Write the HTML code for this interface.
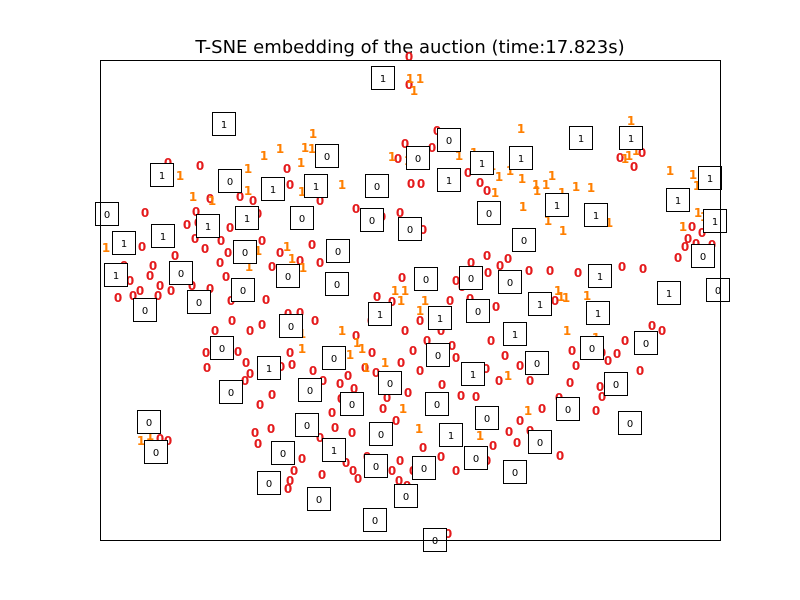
<!DOCTYPE html>
<html><head><meta charset="utf-8">
<style>
html,body{margin:0;padding:0;background:#fff;}
svg{display:block;}
text{font-family:"DejaVu Sans","Liberation Sans",sans-serif;}
</style></head>
<body>
<svg id="chart" width="800" height="600" viewBox="0 0 800 600">
<rect x="0" y="0" width="800" height="600" fill="#fff"/>
<text x="410" y="53" font-size="18" text-anchor="middle" fill="#000">T-SNE embedding of the auction (time:17.823s)</text>
<g id="labels"></g>
<g id="boxes"></g>
<rect x="100.5" y="60.5" width="620" height="480" fill="none" stroke="#000" stroke-width="1"/>
</svg>
<script>
// embedding coordinates (data units; domain x 0..620, y 0..480)
const zeroPts=[[309,-4],[309,24],[337,70],[100,105],[68,102],[125,120],[140,136],[110,138],[153,140],[158,153],[187,108],[190,124],[220,140],[305,83],[298,98],[311,123],[321,123],[332,87],[368,112],[380,122],[387,130],[323,169],[300,152],[256,148],[282,156],[98,162],[96,151],[45,152],[87,164],[130,167],[95,178],[105,188],[121,180],[128,192],[162,180],[180,192],[172,206],[200,200],[212,184],[220,202],[24,205],[30,220],[50,215],[60,225],[40,230],[58,235],[71,230],[120,202],[126,216],[110,228],[92,225],[75,195],[53,205],[33,235],[18,237],[42,186],[71,183],[131,240],[166,239],[200,252],[215,260],[115,270],[132,260],[150,270],[162,264],[188,253],[106,292],[107,307],[138,291],[146,302],[150,313],[190,292],[192,304],[181,306],[213,310],[223,320],[240,323],[248,315],[265,307],[276,312],[254,328],[272,292],[301,302],[313,290],[320,310],[308,332],[287,337],[283,348],[296,360],[327,280],[341,270],[352,285],[356,297],[391,280],[405,295],[386,308],[399,320],[430,320],[420,305],[361,335],[342,324],[376,336],[356,220],[371,202],[387,195],[388,212],[400,205],[408,198],[302,217],[277,236],[292,241],[271,260],[256,275],[320,260],[305,270],[362,226],[350,240],[370,238],[396,246],[429,210],[450,210],[478,212],[522,206],[543,208],[455,240],[472,290],[476,305],[502,292],[517,293],[508,300],[552,265],[562,270],[525,280],[540,310],[500,326],[502,336],[496,350],[470,322],[459,337],[442,348],[420,360],[460,395],[417,382],[409,371],[430,370],[393,385],[387,400],[341,396],[356,410],[323,387],[300,400],[292,410],[267,396],[253,410],[246,402],[258,418],[299,420],[307,425],[313,410],[348,473],[194,410],[190,420],[188,428],[202,398],[222,414],[220,377],[235,367],[252,372],[171,368],[158,383],[160,344],[172,334],[145,320],[68,380],[60,378],[155,372],[232,352],[241,338],[592,166],[588,178],[596,183],[585,186],[602,172],[612,184],[578,197],[534,106],[520,97],[542,92]];
const onePts=[[310,18],[314,30],[320,18],[421,68],[213,73],[212,88],[201,102],[205,87],[180,88],[164,95],[148,108],[80,115],[93,136],[112,140],[148,130],[202,131],[242,124],[292,96],[308,100],[359,95],[374,92],[392,105],[399,116],[410,110],[422,118],[436,124],[446,124],[452,115],[395,132],[423,146],[437,130],[462,132],[476,126],[491,127],[531,60],[525,98],[529,95],[536,90],[570,110],[593,114],[597,125],[598,152],[604,156],[583,166],[509,162],[463,170],[448,160],[6,187],[158,190],[187,186],[192,198],[203,207],[149,206],[295,230],[305,230],[325,240],[320,250],[301,240],[242,270],[257,282],[262,288],[250,294],[202,273],[202,288],[458,230],[461,236],[466,237],[487,235],[467,270],[496,277],[492,285],[285,302],[408,315],[428,350],[319,368],[380,375],[41,380],[50,375],[266,307],[303,348]];
const boxPts=[[283,18],[124,64],[349,80],[481,78],[531,78],[227,96],[318,98],[382,103],[421,98],[62,115],[130,121],[173,129],[216,126],[277,126],[349,120],[610,118],[7,154],[147,158],[202,158],[272,160],[310,169],[389,153],[457,145],[496,155],[578,140],[615,161],[24,183],[63,176],[108,166],[145,192],[238,191],[424,180],[603,196],[16,215],[81,213],[143,230],[188,216],[237,224],[326,219],[371,218],[410,222],[500,216],[569,233],[618,230],[45,250],[99,242],[280,254],[340,258],[378,251],[440,244],[498,253],[191,266],[122,288],[234,298],[169,308],[338,295],[373,314],[415,274],[437,303],[492,288],[546,283],[131,332],[210,330],[290,323],[252,344],[337,344],[387,358],[516,324],[468,349],[49,362],[207,365],[281,374],[351,375],[234,390],[440,382],[530,363],[56,392],[183,393],[276,406],[324,408],[376,398],[415,412],[169,423],[306,436],[219,439],[275,460],[335,480]];
const boxDigit=[1,1,0,1,1,0,0,1,1,1,0,1,1,0,1,1,0,1,0,0,0,0,1,1,1,1,1,1,1,0,0,0,0,1,0,0,0,0,0,0,0,1,1,0,0,0,1,1,0,1,1,0,0,0,1,0,1,1,0,0,0,0,0,0,0,0,0,0,0,0,0,0,1,1,0,0,0,0,0,0,0,0,0,0,0,0,0];

const xScale=v=>100+v*(620/620);
const yScale=v=>60+v*(480/480);
const NS='http://www.w3.org/2000/svg';
const lg=document.getElementById('labels');
function addLabel(p,t,col,name){
  const el=document.createElementNS(NS,'text');
  el.setAttribute('x',xScale(p[0]));
  el.setAttribute('y',yScale(p[1])+5);
  el.setAttribute('font-size','12');
  el.setAttribute('font-weight','bold');
  el.setAttribute('text-anchor','middle');
  el.setAttribute('fill',col);
  
  
  el.textContent=t;
  lg.appendChild(el);
}
zeroPts.forEach(p=>addLabel(p,'0','#e41a1c','label-zero'));
onePts.forEach(p=>addLabel(p,'1','#ff7f00','label-one'));
const bg=document.getElementById('boxes');
boxPts.forEach((p,i)=>{
  const g=document.createElementNS(NS,'g');
  
  
  const r=document.createElementNS(NS,'rect');
  r.setAttribute('x',xScale(p[0])-11.5);
  r.setAttribute('y',yScale(p[1])-11.5);
  r.setAttribute('width',23);
  r.setAttribute('height',23);
  r.setAttribute('fill','#fff');
  r.setAttribute('stroke','#000');
  r.setAttribute('stroke-width','1');
  
  
  g.appendChild(r);
  const t=document.createElementNS(NS,'text');
  t.setAttribute('x',xScale(p[0]));
  t.setAttribute('y',yScale(p[1])+4);
  t.setAttribute('font-size','10');
  t.setAttribute('text-anchor','middle');
  t.setAttribute('fill','#000');
  
  
  t.textContent=String(boxDigit[i]);
  g.appendChild(t);
  bg.appendChild(g);
});
</script>
</body></html>
